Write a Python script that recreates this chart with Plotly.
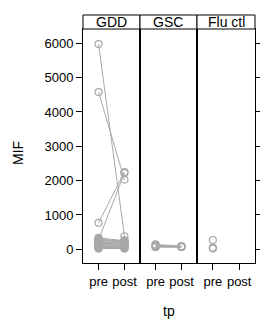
import plotly.graph_objects as go

# ---- data ----
panels = ["GDD", "GSC", "Flu ctl"]
tp_labels = ["pre", "post"]
y_ticks = [0, 1000, 2000, 3000, 4000, 5000, 6000]

gdd_pre = [5980, 4580, 770, 280, 330, 300, 260, 240, 220, 200, 180, 160, 140, 120, 100, 80, 60, 50, 30, 20]
gdd_post = [380, 2030, 2250, 2220, 250, 230, 210, 260, 190, 170, 150, 220, 130, 110, 90, 70, 60, 40, 30, 20]
gsc_pre = [140, 120, 100, 80, 60]
gsc_post = [90, 80, 75, 70, 60]
flu_pre = [270, 50, 20]
flu_post = [None, None, None]

series = [(gdd_pre, gdd_post), (gsc_pre, gsc_post), (flu_pre, flu_post)]

W, H = 260, 323
px_x = [83.0, 140.0, 197.0, 255.0]
panel_top, panel_bot = 29.0, 263.0
strip_top = 15.0
gray = "#a8a8a8"
font = dict(family="Liberation Sans, Arial, sans-serif", size=13, color="black")

fig = go.Figure()
for i, (pre, post) in enumerate(series):
    xs, ys = [], []
    for a, b in zip(pre, post):
        xs += [1, 2, None]
        ys += [a, b, None]
    n = "" if i == 0 else str(i + 1)
    fig.add_trace(go.Scatter(
        x=xs, y=ys, mode="lines+markers", xaxis="x" + n, yaxis="y" + n,
        line=dict(color=gray, width=1), connectgaps=False,
        marker=dict(symbol="circle-open", size=7, color=gray, line=dict(width=1.2)),
        showlegend=False, hoverinfo="skip"))

yr = [-400, 6418]
ydom = [(H - panel_bot) / H, (H - panel_top) / H]
lay = dict(width=W, height=H, margin=dict(l=0, r=0, t=0, b=0),
           paper_bgcolor="white", plot_bgcolor="white", font=font)
for i in range(3):
    n = "" if i == 0 else str(i + 1)
    dom = [px_x[i] / W, px_x[i + 1] / W]
    lay["xaxis" + n] = dict(domain=dom, range=[0.4, 2.6], tickvals=[1, 2], ticktext=tp_labels,
                            ticks="outside", ticklen=6, tickcolor="black", showgrid=False,
                            zeroline=False, showline=True, linecolor="black", mirror=True,
                            anchor="y" + n, tickfont=font)
    ya = dict(domain=ydom, range=yr, showgrid=False, zeroline=False, showline=True,
              linecolor="black", mirror=True, anchor="x" + n, tickvals=y_ticks)
    if i == 0:
        ya.update(ticks="outside", ticklen=6, tickcolor="black", tickfont=font)
    elif i == 1:
        ya.update(showticklabels=False, ticks="", matches="y")
    else:
        ya.update(showticklabels=False, ticks="outside", ticklen=6, tickcolor="black",
                  side="right", matches="y")
    lay["yaxis" + n] = ya
    # top ticks above strip
    lay["xaxis" + str(i + 4)] = dict(overlaying="x" + n, side="top", anchor="free",
                                     position=(H - strip_top) / H, range=[0.4, 2.6],
                                     tickvals=[1, 2], showticklabels=False, ticks="outside",
                                     ticklen=6, tickcolor="black", showgrid=False,
                                     zeroline=False, showline=False)
fig.update_layout(**lay)

shapes, ann = [], []
for i, name in enumerate(panels):
    x0, x1 = px_x[i] / W, px_x[i + 1] / W
    shapes.append(dict(type="rect", xref="paper", yref="paper", x0=x0, x1=x1,
                       y0=(H - panel_top) / H, y1=(H - strip_top) / H,
                       line=dict(color="black", width=1), fillcolor="white"))
    ann.append(dict(text=name, xref="paper", yref="paper", x=(x0 + x1) / 2,
                    y=(H - (panel_top + strip_top) / 2) / H, showarrow=False,
                    xanchor="center", yanchor="middle", font=dict(font, size=14)))
ann.append(dict(text="tp", xref="paper", yref="paper", x=(px_x[0] + px_x[3]) / 2 / W,
                y=(H - 311) / H, showarrow=False, xanchor="center", yanchor="middle",
                font=dict(font, size=14)))
ann.append(dict(text="MIF", xref="paper", yref="paper", x=18 / W,
                y=(H - 153) / H, showarrow=False, xanchor="center", yanchor="middle",
                textangle=-90, font=dict(font, size=14)))
fig.update_layout(shapes=shapes, annotations=ann)
fig.write_html("out.html", config={"displayModeBar": False},
               post_script="document.body.style.margin='0';document.body.style.overflow='hidden';")
